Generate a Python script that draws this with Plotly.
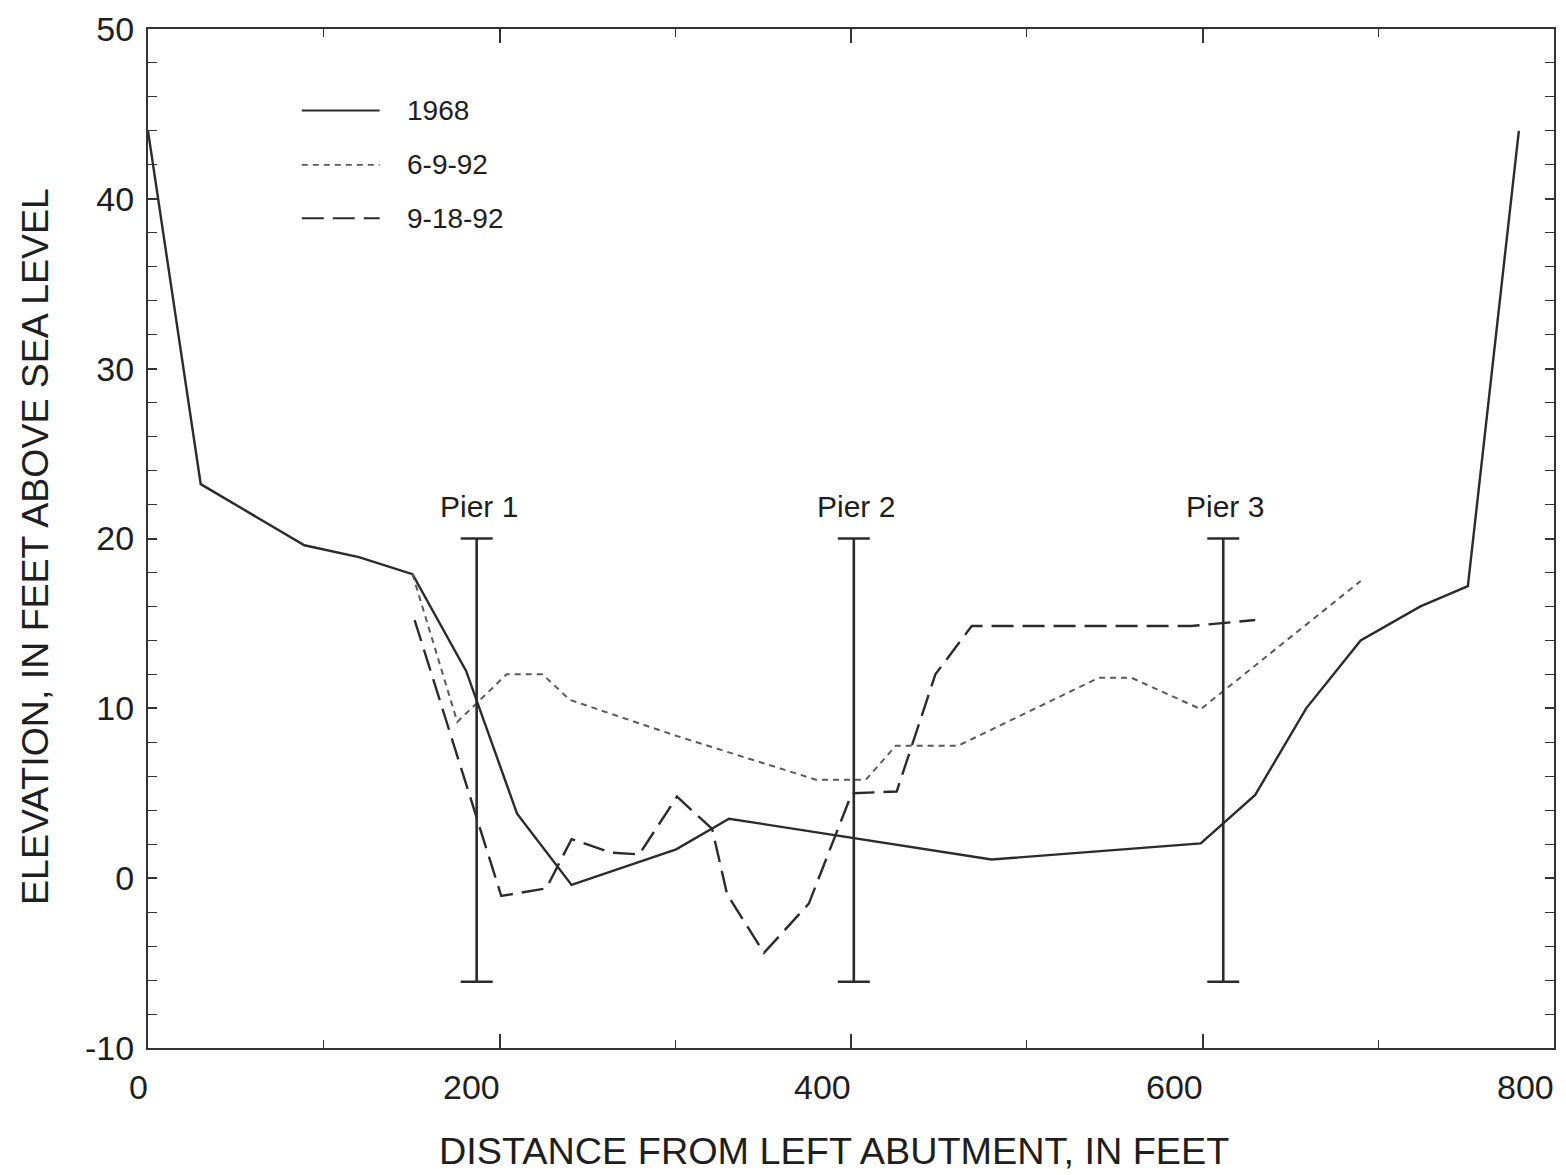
import plotly.graph_objects as go

# Channel cross-section survey data (distance from left abutment, ft; elevation, ft)
dist_1968 = [0, 30, 89, 120, 150.5, 181, 210, 241, 300.5, 330.6, 480, 599, 630, 659, 690, 724, 751, 780]
elev_1968 = [44.0, 23.2, 19.6, 18.9, 17.9, 12.2, 3.8, -0.4, 1.7, 3.5, 1.1, 2.05, 4.9, 10.0, 14.0, 16.0, 17.2, 44.0]

dist_jun92 = [150.5, 176, 204, 224.5, 240, 300, 380, 408.5, 425.5, 461, 541, 559.6, 599, 690]
elev_jun92 = [17.9, 9.2, 12.0, 12.0, 10.5, 8.4, 5.8, 5.8, 7.8, 7.8, 11.8, 11.8, 9.95, 17.5]

dist_sep92 = [151.7, 201, 226.6, 241, 263.6, 279.5, 301, 321, 329.5, 350.5, 376, 400.5, 426, 448, 468.7, 593.6, 630]
elev_sep92 = [15.2, -1.05, -0.6, 2.3, 1.5, 1.4, 4.8, 2.9, -0.95, -4.4, -1.5, 5.0, 5.1, 12.0, 14.85, 14.85, 15.2]

# Bridge piers
pier_names = ["Pier 1", "Pier 2", "Pier 3"]
pier_dist = [187, 401.6, 611.8]
pier_top = 20
pier_bottom = -6.1

series_names = ["1968", "6-9-92", "9-18-92"]

# Axis ticks
x_ticks = [0, 200, 400, 600, 800]
x_tick_text = ["0", "200", "400", "600", "800"]
y_ticks = [-10, 0, 10, 20, 30, 40, 50]
y_tick_text = ["-10", "0", "10", "20", "30", "40", "50"]

INK = "#2b2b2b"
TXT = "#1e1e1e"
FONT = "Liberation Sans, Arial, Helvetica, sans-serif"
CAP = 9.1  # half width of pier end caps, in feet

styles = [
    dict(color=INK, width=2.4, dash="solid"),
    dict(color="#5a5a5a", width=2.0, dash="6px,5px"),
    dict(color=INK, width=2.4, dash="22px,9px"),
]

fig = go.Figure()

for xs, ys, st in zip([dist_1968, dist_jun92, dist_sep92],
                      [elev_1968, elev_jun92, elev_sep92], styles):
    fig.add_trace(go.Scatter(x=xs, y=ys, mode="lines", line=st,
                             showlegend=False, hoverinfo="skip"))

# Pier stems with end caps
px, py = [], []
for d in pier_dist:
    px += [d, d, None, d - CAP, d + CAP, None, d - CAP, d + CAP, None]
    py += [pier_bottom, pier_top, None, pier_top, pier_top, None,
           pier_bottom, pier_bottom, None]
fig.add_trace(go.Scatter(x=px, y=py, mode="lines",
                         line=dict(color=INK, width=2.6),
                         showlegend=False, hoverinfo="skip"))

for name, d in zip(pier_names, pier_dist):
    fig.add_annotation(x=d, y=pier_top, text=name, showarrow=False,
                       yanchor="bottom", yshift=14, xshift=2,
                       font=dict(family=FONT, size=30, color=TXT))

# Key drawn inside the plot area
key_x0, key_x1 = 87.5, 131.8
key_y = [45.2, 42.0, 38.85]
for name, ky, st in zip(series_names, key_y, styles):
    fig.add_trace(go.Scatter(x=[key_x0, key_x1], y=[ky, ky], mode="lines",
                             line=dict(color=st["color"], width=st["width"] - 0.4,
                                       dash=st["dash"]),
                             showlegend=False, hoverinfo="skip"))
    fig.add_annotation(x=146, y=ky, text=name, showarrow=False,
                       xanchor="left", yanchor="middle",
                       font=dict(family=FONT, size=28, color=TXT))

# Distance labels end at their tick marks
for v, t in zip(x_ticks, x_tick_text):
    fig.add_annotation(x=v, y=0, xref="x", yref="paper", text=t,
                       showarrow=False, xanchor="right", yanchor="top",
                       yshift=-18, xshift=2,
                       font=dict(family=FONT, size=34, color=TXT))

# Axis titles
fig.add_annotation(x=0.5, y=0, xref="paper", yref="paper",
                   text="DISTANCE FROM LEFT ABUTMENT, IN FEET", showarrow=False,
                   yanchor="middle", yshift=-103, xshift=-17,
                   font=dict(family=FONT, size=37.8, color=TXT))
fig.add_annotation(x=0, y=19.5, xref="paper", yref="y",
                   text="ELEVATION, IN FEET ABOVE SEA LEVEL", showarrow=False,
                   textangle=-90, xanchor="center", xshift=-113,
                   font=dict(family=FONT, size=37.5, color=TXT))

axis_common = dict(showline=True, linecolor="#333", linewidth=2,
                   mirror="ticks", ticks="inside", tickcolor="#333",
                   showgrid=False, zeroline=False,
                   tickfont=dict(family=FONT, size=34, color=TXT))

fig.update_xaxes(range=[0, 800], tickvals=x_ticks, showticklabels=False,
                 ticklen=14, tickwidth=1.6,
                 minor=dict(dtick=100, ticklen=8, ticks="inside",
                            tickcolor="#333", tickwidth=1.4),
                 **axis_common)
fig.update_yaxes(range=[-10, 50], tickvals=y_ticks, ticktext=y_tick_text,
                 ticklen=9, tickwidth=1.6, ticklabelstandoff=5,
                 minor=dict(dtick=2, ticklen=9, ticks="inside",
                            tickcolor="#333", tickwidth=1.4),
                 **axis_common)

fig.update_layout(width=1566, height=1175,
                  margin=dict(l=148, r=10, t=22, b=127),
                  paper_bgcolor="white", plot_bgcolor="white",
                  showlegend=False)

fig.write_html("out.html")
